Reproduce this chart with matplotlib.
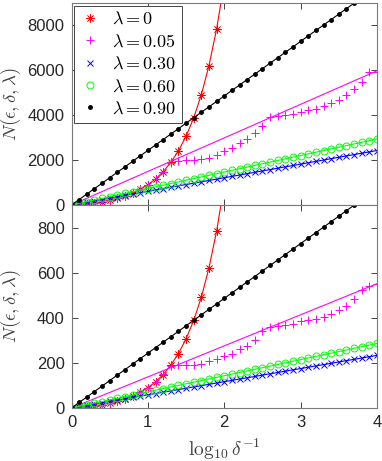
import matplotlib
matplotlib.use('Agg')
from matplotlib import pyplot as plt

plt.rcParams['mathtext.fontset'] = 'cm'
plt.rcParams['font.family'] = ['Liberation Sans', 'DejaVu Sans']

# x positions: log10(1/delta)
logdelta = [0.0, 0.1, 0.2, 0.3, 0.4, 0.5, 0.6, 0.7, 0.8, 0.9,
            1.0, 1.1, 1.2, 1.3, 1.4, 1.5, 1.6, 1.7, 1.8, 1.9,
            2.0, 2.1, 2.2, 2.3, 2.4, 2.5, 2.6, 2.7, 2.8, 2.9,
            3.0, 3.1, 3.2, 3.3, 3.4, 3.5, 3.6, 3.7, 3.8, 3.9, 4.0]
line_x = [0.0, 4.0]

labels = [r'$\lambda = 0$', r'$\lambda = 0.05$', r'$\lambda = 0.30$',
          r'$\lambda = 0.60$', r'$\lambda = 0.90$']

# ---- top panel ----
top_l0 = [0, 26, 58, 100, 151, 216, 298, 401, 531, 694, 900, 1159, 1485,
          1895, 2412, 3062, 3881, 4912, 6210, 7843, 9900]
top_l005 = [0, 26, 58, 100, 151, 216, 298, 401, 531, 694, 900, 1159, 1470,
            1890, 1950, 1990, 2000, 2040, 2100, 2220, 2400, 2520, 2755, 2935,
            3190, 3505, 3924, 3984, 4029, 4059, 4134, 4224, 4299, 4389, 4523,
            4688, 4883, 5152, 5497, 5916, 5946]
top_l005_line = [0, 5980]
top_l030 = [0, 61, 121, 182, 243, 304, 364, 425, 486, 546, 607, 668, 728,
            789, 850, 911, 971, 1032, 1093, 1153, 1214, 1275, 1335, 1396,
            1457, 1518, 1578, 1639, 1700, 1760, 1821, 1882, 1942, 2003, 2064,
            2125, 2185, 2246, 2307, 2367, 2428]
top_l060 = [0, 74, 147, 221, 294, 368, 441, 515, 588, 662, 735, 809, 882,
            956, 1029, 1103, 1176, 1250, 1323, 1397, 1470, 1544, 1617, 1691,
            1764, 1838, 1911, 1985, 2058, 2132, 2205, 2279, 2352, 2426, 2499,
            2573, 2646, 2720, 2793, 2867, 2940]
top_l090 = [0, 245, 485, 730, 970, 1215, 1460, 1700, 1945, 2190, 2430, 2675,
            2915, 3160, 3400, 3645, 3890, 4130, 4375, 4615, 4860, 5105, 5345,
            5590, 5830, 6075, 6320, 6560, 6805, 7045, 7290, 7535, 7775, 8020,
            8260, 8505, 8750, 8990, 9235, 9475, 9720]

# ---- bottom panel ----
bot_l0 = [0, 2.6, 5.8, 10.0, 15.1, 21.6, 29.8, 40.1, 53.1, 69.4, 90.0, 115.9,
          148.5, 189.5, 241.2, 306.2, 388.1, 491.2, 621.0, 784.3, 990.0]
bot_l005 = [0, 2.6, 5.8, 10, 15.1, 21.6, 29.8, 40.1, 53.1, 69.4, 90, 115.9,
            150, 185, 190, 190, 192, 196, 208, 219, 230, 239, 261, 276, 301,
            342, 360, 362, 367, 374, 385, 389, 396, 404, 415, 433, 451, 482,
            522, 542, 551]
bot_l005_line = [0, 551]
bot_l030 = [0, 5.8, 11.7, 17.5, 23.3, 29.2, 35.0, 40.8, 46.6, 52.5, 58.3,
            64.1, 70.0, 75.8, 81.6, 87.5, 93.3, 99.1, 104.9, 110.8, 116.6,
            122.4, 128.3, 134.1, 139.9, 145.8, 151.6, 157.4, 163.2, 169.1,
            174.9, 180.7, 186.6, 192.4, 198.2, 204.1, 209.9, 215.7, 221.5,
            227.4, 233.2]
bot_l060 = [0, 7.2, 14.3, 21.5, 28.6, 35.8, 42.9, 50.1, 57.2, 64.4, 71.5,
            78.7, 85.8, 93.0, 100.1, 107.3, 114.4, 121.6, 128.7, 135.9, 143.0,
            150.2, 157.3, 164.5, 171.6, 178.8, 185.9, 193.1, 200.2, 207.4,
            214.5, 221.7, 228.8, 236.0, 243.1, 250.3, 257.4, 264.6, 271.7,
            278.9, 286.0]
bot_l090 = [0, 24.5, 48.5, 73, 97, 121.5, 146, 170, 194.5, 219, 243, 267.5,
            291.5, 316, 340, 364.5, 389, 413, 437.5, 461.5, 486, 510.5, 534.5,
            559, 583, 607.5, 632, 656, 680.5, 704.5, 729, 753.5, 777.5, 802,
            826, 850.5, 875, 899, 923.5, 947.5, 972]

axcol = '#262626'
asterisk = (8, 2, 0)

fig = plt.figure(figsize=(3.82, 4.61), dpi=100)
ax1 = fig.add_axes([71.5/382, 256/461, 305.5/382, 202/461])
ax2 = fig.add_axes([71.5/382, 53/461, 305.5/382, 203/461])


def draw(ax, l0, l005, l005_line, l030, l060, l090, ymax, yticks):
    n0 = len(l0)
    h0, = ax.plot(logdelta[:n0], l0, color='r', lw=0.8, marker=asterisk,
                  ms=6, mew=0.5)
    ax.plot(line_x, l005_line, color='#ff00ff', lw=0.8)
    h1, = ax.plot(logdelta, l005, ls='none', color='#ff00ff', marker='+',
                  ms=6, mew=0.7)
    h2, = ax.plot(logdelta, l030, color='b', lw=0.8, marker='x', ms=4,
                  mew=0.7)
    h3, = ax.plot(logdelta, l060, color='#00ff00', lw=0.8, marker='o', ms=5,
                  mfc='none', mew=0.7)
    h4, = ax.plot(logdelta, l090, color='k', lw=0.8, marker='o', ms=2.5)
    ax.set_xlim(0, 4)
    ax.set_ylim(0, ymax)
    ax.set_xticks([0, 1, 2, 3, 4])
    ax.set_yticks(yticks)
    ax.tick_params(direction='in', top=True, right=True, length=4,
                   width=0.6, color=axcol, labelcolor=axcol, labelsize=12,
                   pad=5)
    for s in ax.spines.values():
        s.set_color('#7a7a7a')
        s.set_linewidth(0.8)
    ax.set_ylabel(r'$N(\epsilon, \delta, \lambda)$', fontsize=13.5,
                  color='#404040')
    ax.yaxis.set_label_coords(-0.16, 0.5)
    return [h0, h1, h2, h3, h4]


handles = draw(ax1, top_l0, top_l005, top_l005_line, top_l030, top_l060,
               top_l090, 9000, [0, 2000, 4000, 6000, 8000])
ax1.tick_params(labelbottom=False)
draw(ax2, bot_l0, bot_l005, bot_l005_line, bot_l030, bot_l060, bot_l090,
     900, [0, 200, 400, 600, 800])
ax2.set_xlabel(r'$\log_{10}\delta^{-1}$', fontsize=14, color='#404040',
               labelpad=5)

leg = ax1.legend(handles, labels, loc='upper left', fontsize=13,
                 handlelength=1.2, handletextpad=0.6, borderaxespad=0.15,
                 labelspacing=0.3, borderpad=0.3, fancybox=False,
                 framealpha=1, edgecolor=axcol)
leg.get_frame().set_linewidth(0.6)
for h in leg.legend_handles:
    h.set_linestyle('none')

fig.savefig('out.png', dpi=100)
